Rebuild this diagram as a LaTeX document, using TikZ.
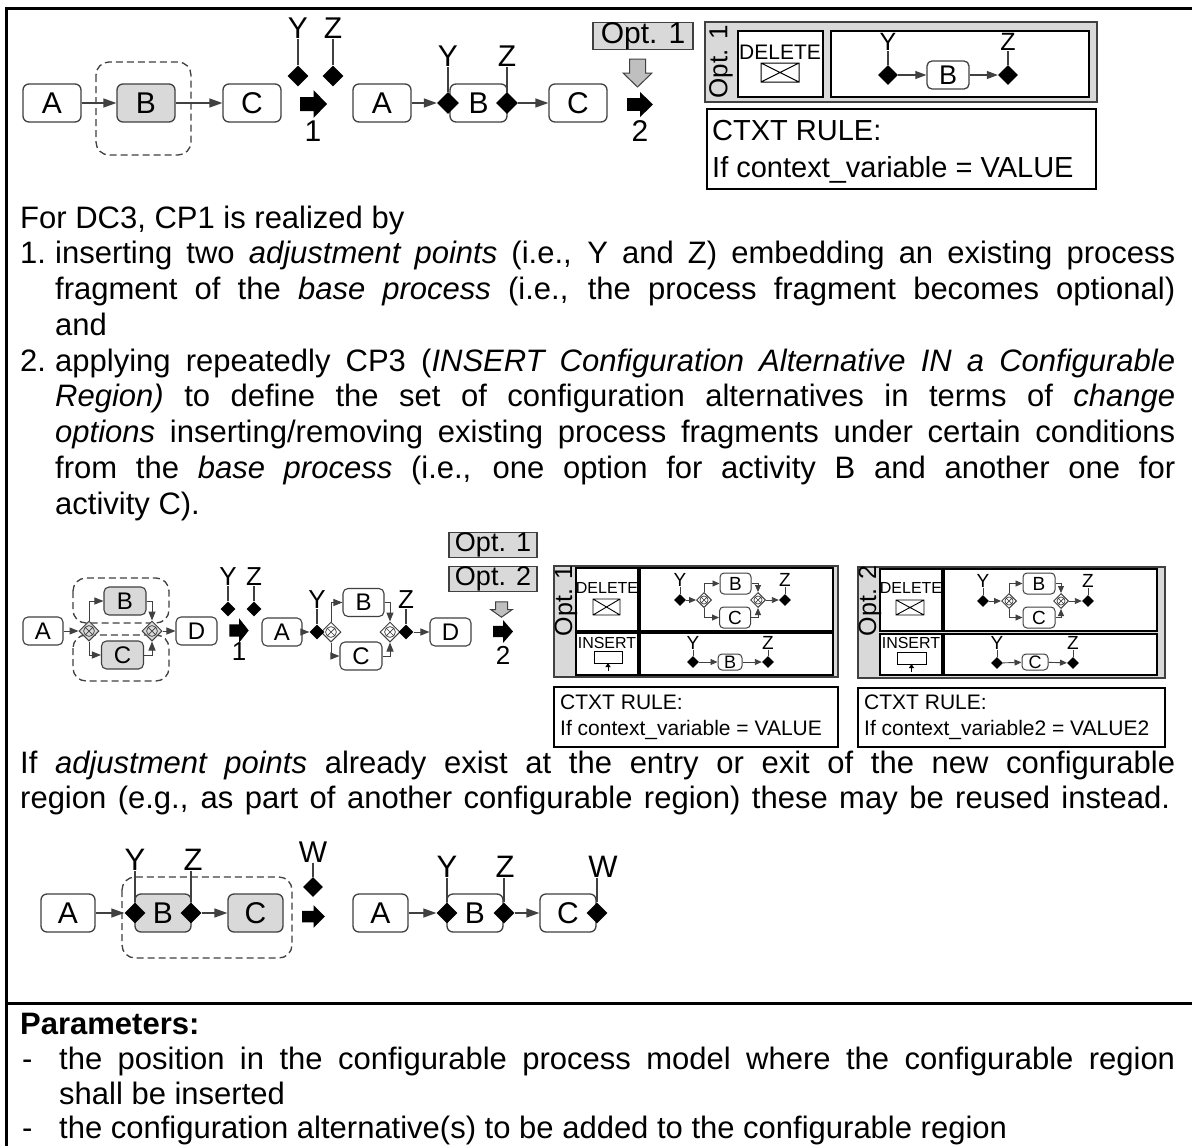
\documentclass[tikz,border=0pt]{standalone}
\usepackage{fontspec}
\setmainfont{Liberation Sans}
\usetikzlibrary{shapes.geometric,arrows.meta}
\definecolor{edge}{HTML}{404040}
\definecolor{boxgray}{HTML}{D9D9D9}
\definecolor{arrowgray}{HTML}{BFBFBF}
\newcommand\fsz[1]{\fontsize{#1pt}{#1pt}\selectfont}
\newcommand\bodyfont{\fontsize{31pt}{36pt}\selectfont}
\tikzset{
 act/.style={draw=edge, line width=1.3pt, rounded corners=6pt, fill=white, inner sep=0pt, minimum width=58pt, minimum height=38pt, font=\fsz{30}},
 actg/.style={act, fill=boxgray},
 actS/.style={act, minimum width=40pt, minimum height=28pt, rounded corners=5pt, line width=1.1pt, font=\fsz{24}},
 actSg/.style={actS, fill=boxgray},
 actT/.style={act, minimum width=31pt, minimum height=21pt, rounded corners=4pt, line width=1pt, font=\fsz{19}},
 flow/.style={draw=edge, line width=1.3pt, -{Triangle[length=13pt,width=9pt]}},
 flowm/.style={draw=edge, line width=1.1pt, -{Triangle[length=11pt,width=8pt]}},
 flows/.style={draw=edge, line width=1pt, -{Triangle[length=9pt,width=7pt]}},
 flowt/.style={draw=edge, line width=0.9pt, -{Triangle[length=7pt,width=6pt]}},
 conn/.style={draw=edge, line width=1.2pt},
 apt/.style={diamond, fill=black, inner sep=0pt, minimum size=#1},
 gate/.style={diamond, draw=edge, line width=1pt, inner sep=0pt, minimum size=#1,
   path picture={\draw[draw=edge, line width=0.7pt]
     (path picture bounding box.center) circle[radius=0.27*#1]
     ([shift={(-0.19*#1,-0.19*#1)}]path picture bounding box.center) -- ([shift={(0.19*#1,0.19*#1)}]path picture bounding box.center)
     ([shift={(-0.19*#1,0.19*#1)}]path picture bounding box.center) -- ([shift={(0.19*#1,-0.19*#1)}]path picture bounding box.center);}},
 region/.style={draw=edge, line width=1.3pt, dash pattern=on 7pt off 4pt, rounded corners=13pt},
 panel/.style={draw=edge, line width=1.3pt, fill=boxgray},
 wbox/.style={draw=black, line width=1.2pt, fill=white},
 optbox/.style={draw=edge, line width=1.3pt, fill=boxgray, inner sep=0pt},
 lbl/.style={inner sep=0pt},
 txt/.style={anchor=base west, inner sep=0pt, font=\bodyfont},
 blk/.pic={\fill[black] (-13.5,-7) -- (0,-7) -- (0,-14) -- (13.5,0) -- (0,14) -- (0,7) -- (-13.5,7) -- cycle;},
 gdown/.pic={\filldraw[fill=arrowgray, draw=edge, line width=1pt] (-8,-14) -- (8,-14) -- (8,0) -- (14.5,0) -- (0,14) -- (-14.5,0) -- (-8,0) -- cycle;}
}
\begin{document}
\begin{tikzpicture}[x=1pt,y=-1pt]
\useasboundingbox (0,0) rectangle (1192,1146);
\fill[white] (0,0) rectangle (1192,1146);
% frame
\draw[line width=3pt] (6,1146) -- (6,8) -- (1192,8);
\draw[line width=3pt] (6,1003) -- (1192,1003);

% ---------- Row 1, diagram 1
\draw[region] (96,62) rectangle (191,155);
\node[act] (a1) at (52,103) {A};
\node[actg] (b1) at (146,103) {B};
\node[act] (c1) at (252,103) {C};
\draw[flow] (a1) -- (b1);
\draw[flow] (b1) -- (c1);
\node[lbl, font=\fsz{30}] (y1) at (298,28) {Y};
\node[lbl, font=\fsz{30}] (z1) at (333,28) {Z};
\node[apt=21pt] (y1d) at (298,76) {};
\node[apt=21pt] (z1d) at (333,76) {};
\draw[conn] (y1.south) -- (y1d.north);
\draw[conn] (z1.south) -- (z1d.north);
\pic at (313.5,104) {blk};
\node[lbl, font=\fsz{30}] (s1) at (313,131) {1};

% ---------- Row 1, diagram 2
\node[act] (a2) at (382,103) {A};
\node[act, minimum width=57pt] (b2) at (478.5,103) {B};
\node[act] (c2) at (578,103) {C};
\node[apt=22pt] (y2d) at (448,103) {};
\node[apt=22pt] (z2d) at (507,103) {};
\draw[flow] (a2) -- (y2d);
\draw[flow] (z2d) -- (c2);
\node[lbl, font=\fsz{30}] (y2) at (448,56) {Y};
\node[lbl, font=\fsz{30}] (z2) at (507,56) {Z};
\draw[conn] (y2.south) -- (y2d.north);
\draw[conn] (z2.south) -- (z2d.north);
\node[optbox, minimum width=100pt, minimum height=26pt, font=\fsz{30}] (o1) at (643,36) {Opt. 1};
\pic at (637.5,73) {gdown};
\pic[xscale=0.96, yscale=0.9] at (640,104.5) {blk};
\node[lbl, font=\fsz{30}] (s2) at (640,131) {2};

% ---------- Row 1, option panel
\draw[panel] (705,22) rectangle (1097,102);
\draw[wbox] (738,31) rectangle (823,97);
\draw[wbox] (831,31) rectangle (1089,97);
\node[lbl, rotate=90, font=\fsz{26}] (pt1) at (721,62) {Opt. 1};
\node[lbl, font=\fsz{21}] (del1) at (780,52) {DELETE};
\draw[line width=1pt] (761,63) rectangle (799,82) (761,63) -- (799,82) (761,82) -- (799,63);
\node[apt=20pt] (y3d) at (888,75) {};
\node[act, minimum width=42pt, minimum height=28pt, rounded corners=5pt, font=\fsz{27}] (b3) at (948,75) {B};
\node[apt=20pt] (z3d) at (1008,75) {};
\draw[flowm] (y3d) -- (b3);
\draw[flowm] (b3) -- (z3d);
\node[lbl, font=\fsz{25}] (y3) at (888,42) {Y};
\node[lbl, font=\fsz{25}] (z3) at (1008,42) {Z};
\draw[conn] (y3.south) -- (y3d.north);
\draw[conn] (z3.south) -- (z3d.north);
\draw[wbox] (707,109) rectangle (1096,189);
\node[lbl, anchor=base west, font=\fsz{29}] (r1a) at (712,140.5) {CTXT RULE:};
\node[lbl, anchor=base west, font=\fsz{29}] (r1b) at (712,177.5) {If context\_variable = VALUE};

% ---------- Text 1
\node[txt] (t0) at (20,228) {For DC3, CP1 is realized by};
\node[txt] (n1) at (20,263.75) {1.};
\node[txt] (t1) at (55,263.75) {\makebox[1120pt][s]{inserting two \textit{adjustment points} (i.e., Y and Z) embedding an existing process}};
\node[txt] (t2) at (55,299.5) {\makebox[1120pt][s]{fragment of the \textit{base process} (i.e., the process fragment becomes optional)}};
\node[txt] (t3) at (55,335.25) {and};
\node[txt] (n2) at (20,371) {2.};
\node[txt] (t4) at (55,371) {\makebox[1120pt][s]{applying repeatedly CP3 (\textit{INSERT Configuration Alternative IN a Configurable}}};
\node[txt] (t5) at (55,406.75) {\makebox[1120pt][s]{\textit{Region)} to define the set of configuration alternatives in terms of \textit{change}}};
\node[txt] (t6) at (55,442.5) {\makebox[1120pt][s]{\textit{options} inserting/removing existing process fragments under certain conditions}};
\node[txt] (t7) at (55,478.25) {\makebox[1120pt][s]{from the \textit{base process} (i.e., one option for activity B and another one for}};
\node[txt] (t8) at (55,514) {activity C).};

% ---------- Row 2, diagram 1
\draw[region] (73,578) rectangle (169,623);
\draw[region] (73,635) rectangle (169,681);
\node[actS] (a4) at (43,631) {A};
\node[actSg, minimum width=42pt] (b4) at (125,601) {B};
\node[actSg, minimum width=42pt] (c4) at (122.5,655) {C};
\node[actS, minimum width=41pt] (d4) at (196.5,631) {D};
\node[gate=20pt, fill=boxgray] (g4a) at (89,631) {};
\node[gate=20pt, fill=boxgray] (g4b) at (152,631) {};
\draw[flows] (a4) -- (g4a);
\draw[flows] (g4a.north) |- (b4.west);
\draw[flows] (g4a.south) |- (c4.west);
\draw[flows] (b4.east) -| (g4b.north);
\draw[flows] (c4.east) -| (g4b.south);
\draw[flows] (g4b) -- (d4);
\node[lbl, font=\fsz{26}] (y4) at (228,577) {Y};
\node[lbl, font=\fsz{26}] (z4) at (254,577) {Z};
\node[apt=15pt] (y4d) at (228,609) {};
\node[apt=15pt] (z4d) at (254,609) {};
\draw[conn] (y4.south) -- (y4d.north);
\draw[conn] (z4.south) -- (z4d.north);
\pic[xscale=0.72, yscale=0.88] at (239,630.5) {blk};
\node[lbl, font=\fsz{26}] (s3) at (239,652) {1};

% ---------- Row 2, diagram 2
\node[actS] (a5) at (282,632) {A};
\node[actS, minimum width=41pt] (b5) at (363.5,602.5) {B};
\node[actS, minimum width=42pt] (c5) at (361,656) {C};
\node[actS, minimum width=41pt] (d5) at (450.5,632) {D};
\node[gate=20pt, fill=white] (g5a) at (331,632) {};
\node[gate=20pt, fill=white] (g5b) at (390,632) {};
\node[apt=15pt] (y5d) at (317,632) {};
\node[apt=15pt] (z5d) at (406,632) {};
\draw[flows] (a5) -- (y5d);
\draw[flows] (g5a.north) |- (b5.west);
\draw[flows] (g5a.south) |- (c5.west);
\draw[flows] (b5.east) -| (g5b.north);
\draw[flows] (c5.east) -| (g5b.south);
\draw[flows] (z5d) -- (d5);
\node[lbl, font=\fsz{26}] (y5) at (317,600) {Y};
\node[lbl, font=\fsz{26}] (z5) at (406,600) {Z};
\draw[conn] (y5.south) -- (y5d.north);
\draw[conn] (z5.south) -- (z5d.north);
\node[optbox, minimum width=88pt, minimum height=24pt, font=\fsz{27}] (o2a) at (493,545) {Opt. 1};
\node[optbox, minimum width=88pt, minimum height=24pt, font=\fsz{27}] (o2b) at (493,579) {Opt. 2};
\pic[xscale=0.75, yscale=0.55] at (501.5,609.5) {gdown};
\pic[xscale=0.74, yscale=0.82] at (503,631.5) {blk};
\node[lbl, font=\fsz{26}] (s4) at (503,655) {2};

% ---------- Row 2, option panel 1
\draw[panel] (554,566) rectangle (838,677);
\draw[wbox] (576,568) rectangle (638,631);
\draw[wbox] (640,568) rectangle (833,631);
\draw[wbox] (576,633) rectangle (638,675);
\draw[wbox] (640,633) rectangle (833,675);
\node[lbl, rotate=90, font=\fsz{25}] (pt2) at (566,601) {Opt. 1};
\node[lbl, font=\fsz{16}] (del2) at (607,588) {DELETE};
\draw[line width=0.9pt] (593,599) rectangle (620,615) (593,599) -- (620,615) (593,615) -- (620,599);
\node[lbl, font=\fsz{16}] (ins2) at (607,643) {INSERT};
\draw[line width=0.9pt] (594,651) rectangle (622,663);
\draw[line width=0.9pt, -{Triangle[length=4pt,width=5pt]}] (608,671) -- (608,663);
\node[apt=12pt] (y6d) at (680,600) {};
\node[gate=15pt, fill=white] (g6a) at (704,600) {};
\node[actT] (b6) at (735.5,583.5) {B};
\node[actT] (c6) at (735,617.5) {C};
\node[gate=15pt, fill=white] (g6b) at (758,600) {};
\node[apt=12pt] (z6d) at (785,600) {};
\draw[flowt] (y6d) -- (g6a);
\draw[flowt] (g6a.north) |- (b6.west);
\draw[flowt] (g6a.south) |- (c6.west);
\draw[flowt] (b6.east) -| (g6b.north);
\draw[flowt] (c6.east) -| (g6b.south);
\draw[flowt] (g6b) -- (z6d);
\node[lbl, font=\fsz{19}] (y6) at (680,580) {Y};
\node[lbl, font=\fsz{19}] (z6) at (785,580) {Z};
\draw[conn, line width=1pt] (y6.south) -- (y6d.north);
\draw[conn, line width=1pt] (z6.south) -- (z6d.north);
\node[apt=12pt] (y7d) at (693,662) {};
\node[actT, minimum width=24pt, minimum height=16pt, font=\fsz{18}] (b7) at (730,662) {B};
\node[apt=12pt] (z7d) at (768,662) {};
\draw[flowt] (y7d) -- (b7);
\draw[flowt] (b7) -- (z7d);
\node[lbl, font=\fsz{19}] (y7) at (693,643) {Y};
\node[lbl, font=\fsz{19}] (z7) at (768,643) {Z};
\draw[conn, line width=1pt] (y7.south) -- (y7d.north);
\draw[conn, line width=1pt] (z7.south) -- (z7d.north);
\draw[wbox] (554,687) rectangle (838,747);
\node[lbl, anchor=base west, font=\fsz{21}] (r2a) at (560,709) {CTXT RULE:};
\node[lbl, anchor=base west, font=\fsz{21}] (r2b) at (560,735) {If context\_variable = VALUE};

% ---------- Row 2, option panel 2
\draw[panel] (858,567) rectangle (1165,678);
\draw[wbox] (880,569) rectangle (942,631);
\draw[wbox] (944,569) rectangle (1157,631);
\draw[wbox] (880,634) rectangle (942,675);
\draw[wbox] (944,634) rectangle (1157,675);
\node[lbl, rotate=90, font=\fsz{25}] (pt3) at (870,601) {Opt. 2};
\node[lbl, font=\fsz{16}] (del3) at (911,588) {DELETE};
\draw[line width=0.9pt] (896,600) rectangle (924,615) (896,600) -- (924,615) (896,615) -- (924,600);
\node[lbl, font=\fsz{16}] (ins3) at (911,643) {INSERT};
\draw[line width=0.9pt] (897,652) rectangle (926,664);
\draw[line width=0.9pt, -{Triangle[length=4pt,width=5pt]}] (911.5,672) -- (911.5,664);
\node[apt=12pt] (y8d) at (983,601) {};
\node[gate=15pt, fill=white] (g8a) at (1009,601) {};
\node[actT, minimum width=32pt] (b8) at (1039,583.5) {B};
\node[actT, minimum width=32pt] (c8) at (1039,617.5) {C};
\node[gate=15pt, fill=white] (g8b) at (1061,601) {};
\node[apt=12pt] (z8d) at (1088,601) {};
\draw[flowt] (y8d) -- (g8a);
\draw[flowt] (g8a.north) |- (b8.west);
\draw[flowt] (g8a.south) |- (c8.west);
\draw[flowt] (b8.east) -| (g8b.north);
\draw[flowt] (c8.east) -| (g8b.south);
\draw[flowt] (g8b) -- (z8d);
\node[lbl, font=\fsz{19}] (y8) at (983,581) {Y};
\node[lbl, font=\fsz{19}] (z8) at (1088,581) {Z};
\draw[conn, line width=1pt] (y8.south) -- (y8d.north);
\draw[conn, line width=1pt] (z8.south) -- (z8d.north);
\node[apt=12pt] (y9d) at (997,663) {};
\node[actT, minimum width=26pt, minimum height=16pt, font=\fsz{18}] (c9) at (1035,662) {C};
\node[apt=12pt] (z9d) at (1073,663) {};
\draw[flowt] (y9d) -- (c9);
\draw[flowt] (c9) -- (z9d);
\node[lbl, font=\fsz{19}] (y9) at (997,643) {Y};
\node[lbl, font=\fsz{19}] (z9) at (1073,643) {Z};
\draw[conn, line width=1pt] (y9.south) -- (y9d.north);
\draw[conn, line width=1pt] (z9.south) -- (z9d.north);
\draw[wbox] (858,688) rectangle (1165,747);
\node[lbl, anchor=base west, font=\fsz{21}] (r3a) at (864,709) {CTXT RULE:};
\node[lbl, anchor=base west, font=\fsz{21}] (r3b) at (864,735) {If context\_variable2 = VALUE2};

% ---------- Text 2
\node[txt] (u1) at (20,773) {\makebox[1155pt][s]{If \textit{adjustment points} already exist at the entry or exit of the new configurable}};
\node[txt] (u2) at (20,808.75) {\makebox[1150pt][s]{region (e.g., as part of another configurable region) these may be reused instead.}};

% ---------- Row 3, diagram 1
\draw[region] (122,877) rectangle (292,958);
\node[act, minimum width=54pt] (a10) at (68,913) {A};
\node[actg, minimum width=56pt] (b10) at (163,913) {B};
\node[actg, minimum width=55pt] (c10) at (255.5,913) {C};
\node[apt=21pt] (y10d) at (135,913) {};
\node[apt=21pt] (z10d) at (191,913) {};
\draw[flow] (a10) -- (y10d);
\draw[flow] (z10d) -- (c10);
\node[lbl, font=\fsz{31}] (y10) at (135,860) {Y};
\node[lbl, font=\fsz{31}] (z10) at (193,860) {Z};
\draw[conn] (y10d.north) -- (y10d.north |- y10.south);
\draw[conn] (z10d.north) -- (z10d.north |- z10.south);
\node[apt=20pt] (w10d) at (313,887) {};
\node[lbl, font=\fsz{30}] (w10) at (313,852) {W};
\draw[conn] (w10.south) -- (w10d.north);
\pic[xscale=0.85, yscale=0.82] at (313.5,916.5) {blk};

% ---------- Row 3, diagram 2
\node[act, minimum width=55pt] (a11) at (380.5,913) {A};
\node[act, minimum width=56pt] (b11) at (475,913) {B};
\node[act, minimum width=56pt] (c11) at (568,913) {C};
\node[apt=21pt] (y11d) at (447,913) {};
\node[apt=21pt] (z11d) at (504,913) {};
\node[apt=21pt] (w11d) at (597,913) {};
\draw[flow] (a11) -- (y11d);
\draw[flow] (z11d) -- (c11);
\node[lbl, font=\fsz{31}] (y11) at (447,867) {Y};
\node[lbl, font=\fsz{31}] (z11) at (505,867) {Z};
\node[lbl, font=\fsz{31}] (w11) at (603,867) {W};
\draw[conn] (y11d.north) -- (y11d.north |- y11.south);
\draw[conn] (z11d.north) -- (z11d.north |- z11.south);
\draw[conn] (w11d.north) -- (w11d.north |- w11.south);

% ---------- Parameters
\node[txt, font=\bodyfont\bfseries] (p0) at (20,1034) {Parameters:};
\node[txt] (pd1) at (22,1069) {-};
\node[txt] (p1) at (59,1069) {\makebox[1116pt][s]{the position in the configurable process model where the configurable region}};
\node[txt] (p2) at (59,1104) {shall be inserted};
\node[txt] (pd2) at (22,1138) {-};
\node[txt] (p3) at (59,1138) {the configuration alternative(s) to be added to the configurable region};
\end{tikzpicture}
\end{document}
